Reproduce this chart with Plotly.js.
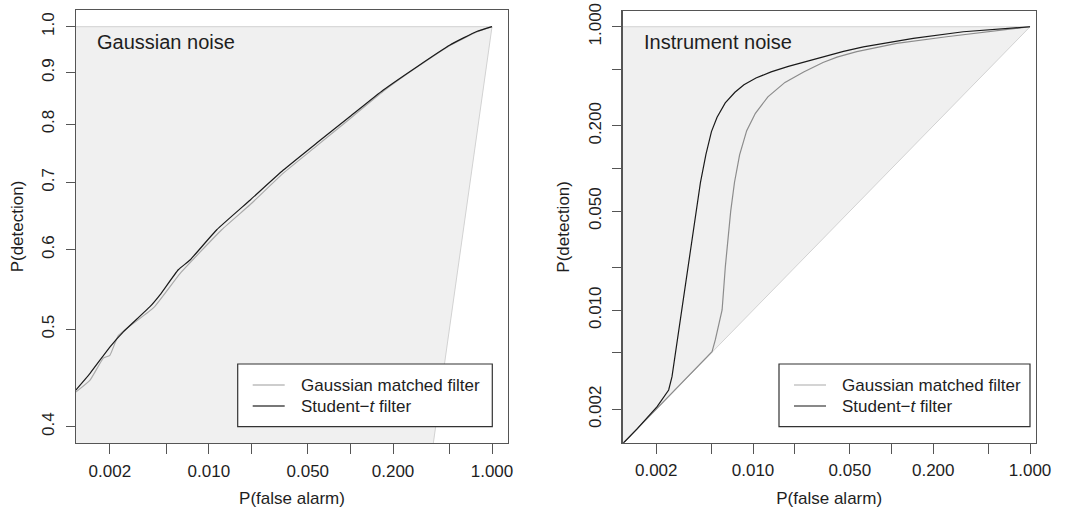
<!DOCTYPE html>
<html>
<head>
<meta charset="utf-8">
<script src="https://cdn.plot.ly/plotly-3.0.1.min.js"></script>
<style>html,body{margin:0;padding:0;background:#fff;}#chart{width:1065px;height:508px;}</style>
</head>
<body>
<div id="chart"></div>
<script>
// ---- Data ----
// Left panel: Gaussian noise
const gaussNoiseStudFA = [0.00115, 0.00145, 0.002, 0.00249, 0.00384, 0.00452, 0.00609, 0.00737, 0.01138, 0.01954, 0.0336, 0.0578, 0.0993, 0.1708, 0.2939, 0.505, 0.78, 1];
const gaussNoiseStudPD = [0.435, 0.452, 0.480, 0.497, 0.5265, 0.541, 0.573, 0.586, 0.628, 0.672, 0.720, 0.766, 0.814, 0.865, 0.912, 0.959, 0.989, 1];
const gaussNoiseGmfFA  = [0.00115, 0.00145, 0.0018, 0.002, 0.0023, 0.00406, 0.00626, 0.01233, 0.01954, 0.0336, 0.0578, 0.0993, 0.1708, 0.2939, 0.505, 0.78, 1];
const gaussNoiseGmfPD  = [0.433, 0.445, 0.468, 0.471, 0.493, 0.525, 0.568, 0.628, 0.665, 0.715, 0.761, 0.810, 0.8625, 0.911, 0.958, 0.988, 1];

// Right panel: Instrument noise
const instStudFA = [0.00115, 0.00145, 0.00203, 0.00246, 0.0026, 0.00282, 0.00316, 0.00355, 0.0038, 0.00417, 0.00457, 0.00501, 0.0055, 0.0063, 0.0074, 0.0086, 0.0105, 0.0135, 0.018, 0.025, 0.0322, 0.045, 0.0626, 0.1436, 0.33, 1];
const instStudPD = [0.00115, 0.00145, 0.00209, 0.00274, 0.0034, 0.0059, 0.013, 0.0285, 0.0458, 0.0796, 0.126, 0.182, 0.23, 0.29, 0.345, 0.39, 0.435, 0.48, 0.525, 0.575, 0.615, 0.67, 0.72, 0.828, 0.922, 1];
const instGmfFA  = [0.00115, 0.002, 0.0035, 0.00506, 0.00534, 0.00598, 0.00631, 0.00662, 0.0069, 0.00735, 0.0080, 0.0090, 0.0104, 0.0128, 0.0170, 0.0232, 0.0320, 0.0404, 0.0561, 0.109, 0.250, 1];
const instGmfPD  = [0.00115, 0.002, 0.0035, 0.0051, 0.00618, 0.01005, 0.0203, 0.0330, 0.050, 0.080, 0.125, 0.185, 0.245, 0.320, 0.405, 0.480, 0.560, 0.610, 0.667, 0.764, 0.850, 1];

// Chance region (above the diagonal P(detection) = P(false alarm), below 1)
const chanceX = [1e-4, 1, 1e-4, 1e-4];
const chanceY = [1e-4, 1, 1, 1e-4];

// Tick values / labels
const xTickVals  = [0.002, 0.005, 0.01, 0.02, 0.05, 0.1, 0.2, 0.5, 1];
const xTickText  = ['0.002', '', '0.010', '', '0.050', '', '0.200', '', '1.000'];
const yLeftVals  = [0.4, 0.5, 0.6, 0.7, 0.8, 0.9, 1.0];
const yLeftText  = ['0.4', '0.5', '0.6', '0.7', '0.8', '0.9', '1.0'];
const yRightVals = [0.002, 0.005, 0.01, 0.02, 0.05, 0.1, 0.2, 0.5, 1];
const yRightText = ['0.002', '', '0.010', '', '0.050', '', '0.200', '', '1.000'];

const seriesNames = ['Gaussian matched filter', 'Student\u2212<i>t</i> filter'];
const panelTitles = ['Gaussian noise', 'Instrument noise'];

// ---- Styling ----
const FONT = 'Liberation Sans, Arial, Helvetica, sans-serif';
const TXT = '#1e1e1e';
const W = 1065, H = 508;
const fillCol = '#f0f0f0', edgeCol = '#d2d2d2';
const gaussCol = '#ababab', gaussColR = '#8c8c8c', studCol = '#1a1a1a';
const legGaussCol = '#bdbdbd', legStudCol = '#4a4a4a';

const traces = [
  {x: chanceX, y: chanceY, xaxis: 'x', yaxis: 'y', mode: 'lines', fill: 'toself', fillcolor: fillCol,
   line: {color: edgeCol, width: 1}, hoverinfo: 'skip'},
  {x: gaussNoiseGmfFA, y: gaussNoiseGmfPD, xaxis: 'x', yaxis: 'y', mode: 'lines', name: seriesNames[0],
   line: {color: gaussCol, width: 1.2, shape: 'spline', smoothing: 0.4}},
  {x: gaussNoiseStudFA, y: gaussNoiseStudPD, xaxis: 'x', yaxis: 'y', mode: 'lines', name: seriesNames[1],
   line: {color: studCol, width: 1.2, shape: 'spline', smoothing: 0.4}},
  {x: chanceX, y: chanceY, xaxis: 'x2', yaxis: 'y2', mode: 'lines', fill: 'toself', fillcolor: fillCol,
   line: {color: edgeCol, width: 1}, hoverinfo: 'skip'},
  {x: instGmfFA, y: instGmfPD, xaxis: 'x2', yaxis: 'y2', mode: 'lines', name: seriesNames[0],
   line: {color: gaussColR, width: 1.2}},
  {x: instStudFA, y: instStudPD, xaxis: 'x2', yaxis: 'y2', mode: 'lines', name: seriesNames[1],
   line: {color: studCol, width: 1.2}}
];

function xAxis(domain, range, anchor) {
  return {type: 'log', domain: domain, range: range, anchor: anchor,
    tickvals: xTickVals, ticktext: xTickText, ticks: 'outside', ticklen: 10, tickcolor: '#555', tickwidth: 1,
    showline: true, mirror: true, linecolor: '#555', linewidth: 1.3, showgrid: false, zeroline: false,
    tickfont: {family: FONT, size: 17, color: TXT}, ticklabelstandoff: 2,
    title: {text: 'P(false alarm)', font: {family: FONT, size: 17, color: TXT}, standoff: 16}};
}
function yAxis(domain, range, anchor, vals, text) {
  return {type: 'log', domain: domain, range: range, anchor: anchor,
    tickvals: vals, ticktext: text, ticks: 'outside', ticklen: 9, tickcolor: '#555', tickwidth: 1, tickangle: -90,
    showline: true, mirror: true, linecolor: '#555', linewidth: 1.3, showgrid: false, zeroline: false,
    tickfont: {family: FONT, size: 17, color: TXT}, ticklabelstandoff: 5,
    title: {text: 'P(detection)', font: {family: FONT, size: 17, color: TXT}, standoff: 11}};
}

// Legend drawn as a boxed key (R style): box, sample lines, labels
function legendParts(left, top, bottom, width) {
  const px = v => v / W, py = v => 1 - v / H;
  const rows = [top + 21, top + 42];
  const shapes = [
    {type: 'rect', xref: 'paper', yref: 'paper', x0: px(left), x1: px(left + width), y0: py(bottom), y1: py(top),
     line: {color: '#333', width: 1.2}, fillcolor: '#fff', layer: 'above'},
    {type: 'line', xref: 'paper', yref: 'paper', x0: px(left + 15), x1: px(left + 47), y0: py(rows[0]), y1: py(rows[0]),
     line: {color: legGaussCol, width: 1.3}, layer: 'above'},
    {type: 'line', xref: 'paper', yref: 'paper', x0: px(left + 15), x1: px(left + 47), y0: py(rows[1]), y1: py(rows[1]),
     line: {color: legStudCol, width: 1.3}, layer: 'above'}
  ];
  const ann = seriesNames.map((t, i) => ({xref: 'paper', yref: 'paper', x: px(left + 61), y: py(rows[i]),
    xanchor: 'left', yanchor: 'middle', text: t, showarrow: false,
    font: {family: FONT, size: 17, color: TXT}}));
  return {shapes, ann};
}
const legL = legendParts(237.7, 364, 426.7, 254.6);
const legR = legendParts(779, 364, 426.7, 251);

const layout = {
  width: W, height: H, margin: {l: 0, r: 0, t: 0, b: 0},
  paper_bgcolor: '#fff', plot_bgcolor: '#fff', showlegend: false,
  xaxis:  xAxis([76 / W, 508 / W], [-2.938, 0.113], 'y'),
  yaxis:  yAxis([1 - 443 / H, 1 - 10 / H], [-0.4142, 0.0166], 'x', yLeftVals, yLeftText),
  xaxis2: xAxis([622.7 / W, 1035.7 / W], [-2.941, 0.041], 'y2'),
  yaxis2: yAxis([1 - 442.7 / H, 1 - 11 / H], [-2.934, 0.111], 'x2', yRightVals, yRightText),
  shapes: legL.shapes.concat(legR.shapes),
  annotations: [
    {xref: 'paper', yref: 'paper', x: 95 / W, y: 1 - 42 / H, xanchor: 'left', yanchor: 'middle',
     text: panelTitles[0], showarrow: false, font: {family: FONT, size: 20, color: TXT}},
    {xref: 'paper', yref: 'paper', x: 642 / W, y: 1 - 42 / H, xanchor: 'left', yanchor: 'middle',
     text: panelTitles[1], showarrow: false, font: {family: FONT, size: 20, color: TXT}}
  ].concat(legL.ann, legR.ann)
};

Plotly.newPlot('chart', traces, layout, {staticPlot: true, displayModeBar: false});
</script>
</body>
</html>
